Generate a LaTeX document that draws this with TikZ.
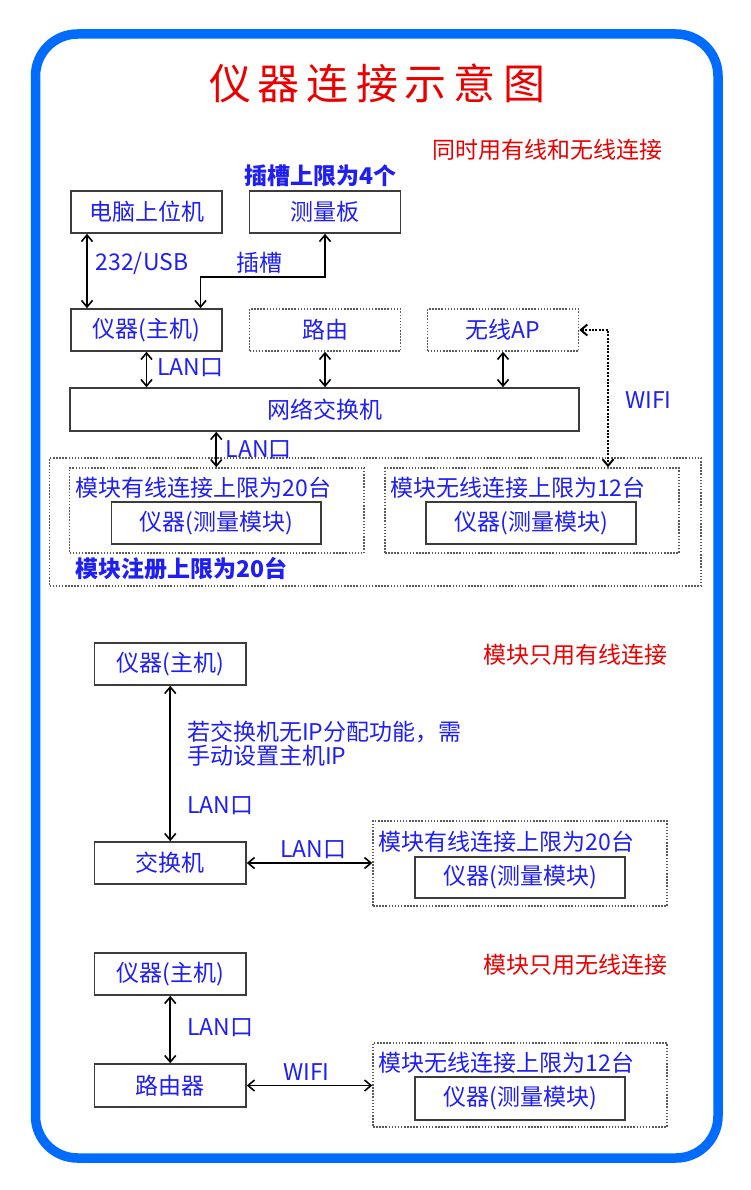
\documentclass[tikz,border=0pt]{standalone}
\usepackage{fontspec}
\setmainfont{Noto Sans CJK SC}
\usetikzlibrary{arrows.meta}
\definecolor{frameblue}{RGB}{0,108,255}
\definecolor{txtblue}{RGB}{30,30,245}
\definecolor{hdred}{RGB}{235,0,0}
\definecolor{boxgray}{RGB}{60,60,60}
\definecolor{dotgray}{RGB}{90,90,90}
\newcommand\myfs{\fontsize{23pt}{25pt}\selectfont}
\newcommand\mytitlefs{\fontsize{42pt}{46pt}\selectfont}
\tikzset{
  box/.style={draw=boxgray, line width=1.6pt, minimum width=151pt, minimum height=42pt, inner sep=0pt, text=txtblue, font=\myfs},
  dbox/.style={draw=dotgray, line width=1.5pt, dash pattern=on 1.5pt off 1.6pt, minimum width=151pt, minimum height=42pt, inner sep=0pt, text=txtblue, font=\myfs},
  frame/.style={draw=dotgray, line width=1.5pt, dash pattern=on 1.5pt off 1.6pt, inner sep=0pt},
  lbl/.style={anchor=west, inner sep=0pt, text=txtblue, font=\myfs},
  blbl/.style={anchor=west, inner sep=0pt, text=txtblue, font=\myfs\bfseries},
  hd/.style={anchor=west, inner sep=0pt, text=hdred, font=\myfs},
  arr/.style={line width=1.6pt, black, {Straight Barb[length=6.5pt,width=11pt]}-{Straight Barb[length=6.5pt,width=11pt]}},
  darr/.style={line width=2pt, black, dash pattern=on 2pt off 1.4pt, {Straight Barb[length=6.5pt,width=11pt]}-{Straight Barb[length=6.5pt,width=11pt]}},
}
\begin{document}
\begin{tikzpicture}[x=1pt,y=-1pt]
\useasboundingbox (0,0) rectangle (750,1190);
\fill[white] (0,0) rectangle (750,1190);
% blue frame
\draw[frameblue, line width=9.5pt, rounded corners=42pt] (35.5,34) rectangle (718,1158);
% title
\node[inner sep=0pt, text=hdred, font=\mytitlefs] (title) at (377,83)
  {仪\kern7pt 器\kern7pt 连\kern7pt 接\kern7pt 示\kern7pt 意\kern7pt 图};

% ===== section 1 =====
\node[hd] (h1) at (432,150) {同时用有线和无线连接};
\node[blbl] (slotlim) at (244,176) {插槽上限为4个};
\node[box] (pc) at (146.5,212) {电脑上位机};
\node[box] (board) at (325,212) {测量板};
\node[box] (host) at (146.5,330) {仪器(主机)};
\node[dbox] (router) at (325,330) {路由};
\node[dbox] (ap) at (503,330) {无线AP};
\node[box, minimum width=509pt, minimum height=43pt] (switch) at (324.5,409.5) {网络交换机};
\node[frame, minimum width=651.5pt, minimum height=128pt] (outer) at (375.25,522) {};
\node[frame, minimum width=294.5pt, minimum height=85pt] (lbox) at (216.75,510.5) {};
\node[frame, minimum width=294pt, minimum height=85pt] (rbox) at (532,510.5) {};
\node[box, minimum width=209.5pt] (lmod) at (216.25,523) {仪器(测量模块)};
\node[box, minimum width=210pt] (rmod) at (531,523) {仪器(测量模块)};
\node[lbl] (lboxl) at (75.6,488) {模块有线连接上限为20台};
\node[lbl] (rboxl) at (390,488) {模块无线连接上限为12台};
\node[blbl] (regl) at (75.6,569) {模块注册上限为20台};

\draw[arr] ([xshift=-59.5pt]pc.south) -- ([xshift=-59.5pt]host.north);
\node[lbl] (usbl) at (95.5,263) {232/USB};
\draw[arr] ([xshift=54pt]host.north) -- ++(0,-31) -| (board.south);
\node[lbl] (slotl) at (236,263) {插槽};
\draw[arr] (host.south) -- (host.south |- switch.north);
\node[lbl] (lan1) at (157,368) {LAN口};
\draw[arr] (router.south) -- (router.south |- switch.north);
\draw[arr] (ap.south) -- (ap.south |- switch.north);
\draw[arr] (lmod |- switch.south) -- (lmod |- lbox.north);
\node[lbl] (lan2) at (225.6,450) {LAN口};
\coordinate (wc) at (608,330);
\draw[darr] (ap.east) -- (wc) -- (wc |- rbox.north);
\node[lbl] (wifi1) at (625,400) {WIFI};

% ===== section 2 =====
\node[hd] (h2) at (483,655) {模块只用有线连接};
\node[box, minimum width=151.5pt] (host2) at (170.25,664) {仪器(主机)};
\node[box, minimum width=151.5pt] (sw2) at (170.25,863) {交换机};
\draw[arr] (host2.south) -- (sw2.north);
\node[lbl, align=left, font=\fontsize{23pt}{24pt}\selectfont] (note) at (187,744) {若交换机无IP分配功能，需\\手动设置主机IP};
\node[lbl] (lan3) at (187,806) {LAN口};
\node[frame, minimum width=294pt, minimum height=85pt] (box2) at (520,863.5) {};
\node[lbl] (box2l) at (378.5,842) {模块有线连接上限为20台};
\node[box, minimum width=210pt, minimum height=41pt] (mod2) at (520,877.5) {仪器(测量模块)};
\draw[arr] (sw2.east) -- (sw2.east -| box2.west);
\node[lbl] (lan4) at (280,850) {LAN口};

% ===== section 3 =====
\node[hd] (h3) at (483,965) {模块只用无线连接};
\node[box, minimum width=151.5pt] (host3) at (170.25,974) {仪器(主机)};
\node[box, minimum width=151.5pt, minimum height=43pt] (rt3) at (170.25,1085.5) {路由器};
\draw[arr] (host3.south) -- (rt3.north);
\node[lbl] (lan5) at (187,1028) {LAN口};
\node[frame, minimum width=294pt, minimum height=84pt] (box3) at (520,1085) {};
\node[lbl] (box3l) at (378.5,1063) {模块无线连接上限为12台};
\node[box, minimum width=210pt, minimum height=43pt] (mod3) at (520,1098.5) {仪器(测量模块)};
\draw[arr] (rt3.east) -- (rt3.east -| box3.west);
\node[lbl] (wifi2) at (283,1072) {WIFI};
\end{tikzpicture}
\end{document}
